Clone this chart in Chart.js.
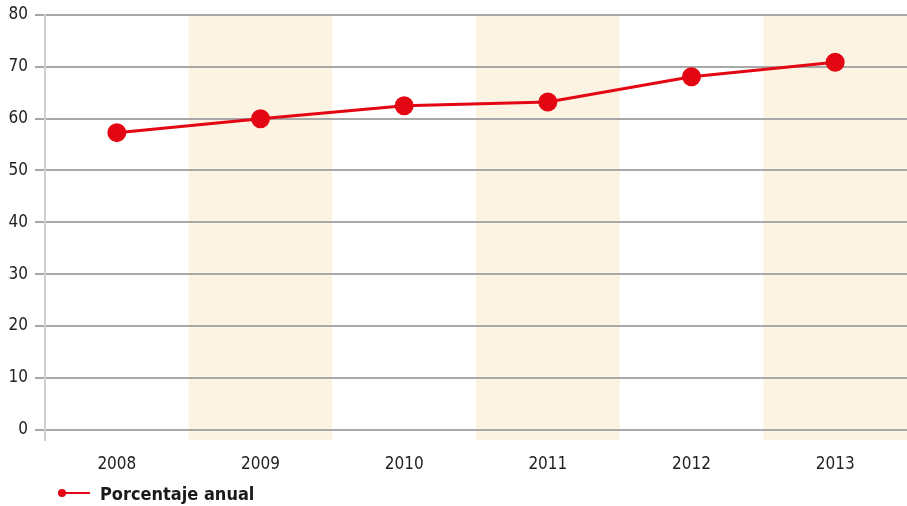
<!DOCTYPE html>
<html>
<head>
<meta charset="utf-8">
<script src="https://cdn.jsdelivr.net/npm/chart.js@4.4.0/dist/chart.umd.min.js"></script>
<style>
  html, body { margin: 0; padding: 0; background: #ffffff; }
  #wrap { position: relative; width: 907px; height: 506px; }
  #legend { position: absolute; left: 58px; top: 480px; height: 26px; display: flex; align-items: center;
    font-family: "Liberation Sans Narrow", "DejaVu Sans Condensed", "Roboto Condensed", sans-serif;
    font-weight: bold; font-size: 18px; color: #1a1a1a; }
  #legend .mk { position: relative; width: 32px; height: 12px; margin-right: 10px; }
  #legend .mk .ln { position: absolute; left: 4px; right: 0; top: 5px; height: 2px; background: #e30613; }
  #legend .mk .dt { position: absolute; left: 0; top: 2px; width: 8px; height: 8px; border-radius: 50%; background: #e30613; }
</style>
</head>
<body>
<div id="wrap">
  <canvas id="c" width="907" height="506"></canvas>
  <div id="legend"><span class="mk"><span class="ln"></span><span class="dt"></span></span><span>Porcentaje anual</span></div>
</div>
<script>
const categories = ["2008", "2009", "2010", "2011", "2012", "2013"];
const porcentajeAnual = [57.3, 60.0, 62.5, 63.2, 68.1, 70.9];
const shadedCategories = ["2009", "2011", "2013"];
const yTickValues = [0, 10, 20, 30, 40, 50, 60, 70, 80];

const FONT = '"Liberation Sans Narrow", "DejaVu Sans Condensed", sans-serif';

const bandPlugin = {
  id: 'bands',
  beforeDraw(chart) {
    const { ctx, chartArea, scales } = chart;
    const x = scales.x;
    const half = (x.getPixelForValue(1) - x.getPixelForValue(0)) / 2;
    ctx.save();
    ctx.fillStyle = '#fcf3e3';
    shadedCategories.forEach(c => {
      const i = categories.indexOf(c);
      const cx = x.getPixelForValue(i);
      ctx.fillRect(cx - half, chartArea.top, half * 2, chartArea.bottom - chartArea.top);
    });
    ctx.restore();
  }
};

new Chart(document.getElementById('c'), {
  type: 'line',
  data: {
    labels: categories,
    datasets: [{
      label: 'Porcentaje anual',
      data: porcentajeAnual,
      borderColor: '#e30613',
      backgroundColor: '#e30613',
      borderWidth: 3,
      pointRadius: 8,
      pointHoverRadius: 8,
      pointBackgroundColor: '#e30613',
      pointBorderColor: '#e30613',
      tension: 0,
      clip: false
    }]
  },
  options: {
    responsive: false,
    animation: false,
    devicePixelRatio: 1,
    layout: { autoPadding: false, padding: { top: 15, right: 0, left: 0, bottom: 0 } },
    plugins: {
      legend: { display: false },
      tooltip: { enabled: false }
    },
    scales: {
      x: {
        offset: true,
        grid: { display: false, drawTicks: false },
        border: { display: false },
        ticks: { color: '#222', font: { family: FONT, size: 17 }, padding: 14 },
        afterFit(scale) { scale.height = 66; scale.paddingLeft = 0; scale.paddingRight = 0; }
      },
      y: {
        min: -2,
        max: 80,
        afterBuildTicks(scale) { scale.ticks = yTickValues.map(v => ({ value: v })); },
        grid: { color: '#a8a8a8', lineWidth: 2, tickLength: 10 },
        border: { display: true, color: '#d0d0d0', width: 2 },
        ticks: { color: '#222', font: { family: FONT, size: 17 }, padding: 7 },
        afterFit(scale) { scale.width = 45; scale.paddingTop = 0; scale.paddingBottom = 0; }
      }
    }
  },
  plugins: [bandPlugin]
});
</script>
</body>
</html>
